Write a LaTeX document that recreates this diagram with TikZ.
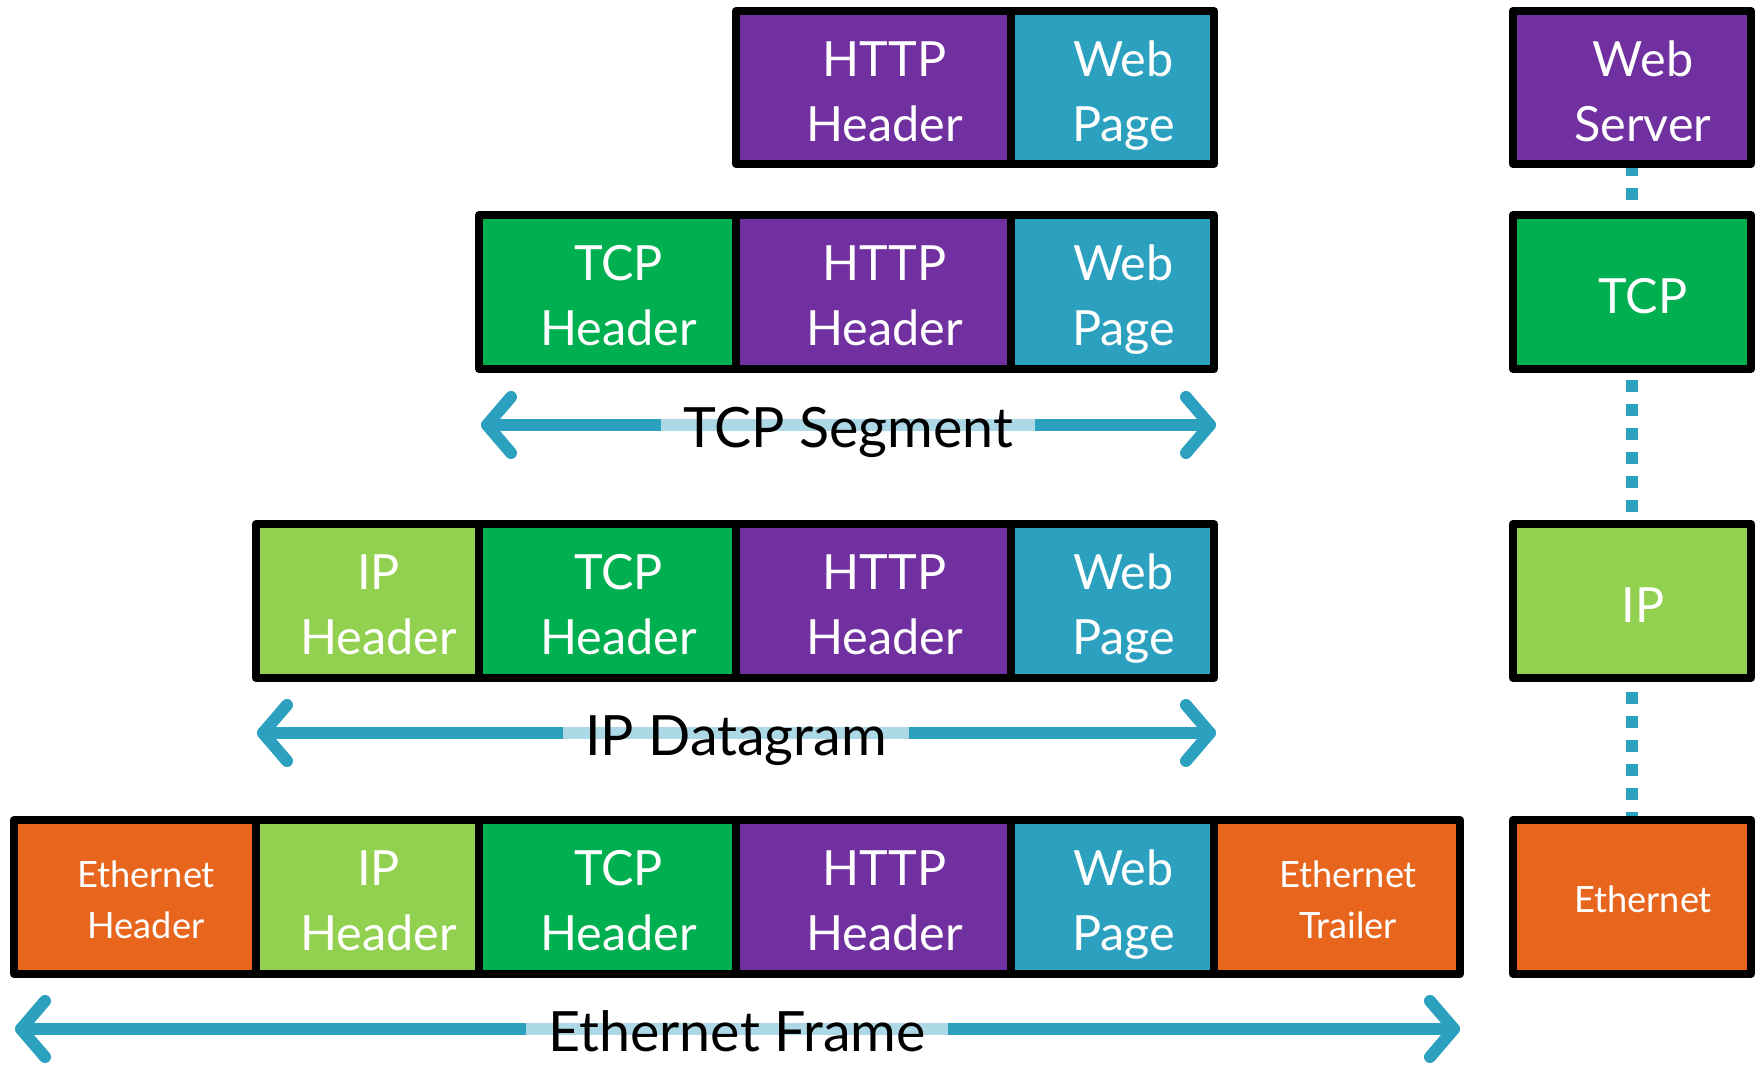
\documentclass[tikz,border=0pt]{standalone}
\usepackage{fontspec}
\setmainfont{Lato}
\usetikzlibrary{backgrounds}
\definecolor{cpurple}{HTML}{7030A0}
\definecolor{cweb}{HTML}{2CA1BF}
\definecolor{cgreen}{HTML}{00AF50}
\definecolor{clgreen}{HTML}{92D050}
\definecolor{corange}{HTML}{E8651E}
\definecolor{cband}{HTML}{ADD9E6}
\newcommand\cellfont{\fontsize{13.8pt}{18.4pt}\selectfont}
\newcommand\ethfont{\fontsize{10.3pt}{14.4pt}\selectfont}
\newcommand\lblfont{\fontsize{15.8pt}{18pt}\selectfont}
% first line: indent plus a strut that fixes the line height
\newcommand\fln{\hspace*{0.22cm}\rule{0pt}{0.88em}}
\newcommand\sft{\hspace*{0.22cm}}
\tikzset{
  cell/.style={draw=black, line width=0.08cm, line join=round, inner sep=0pt,
    text=white, font=\cellfont, align=center, text depth=0pt},
  ethcell/.style={cell, font=\ethfont},
  lbl/.style={anchor=base, font=\lblfont, text=black, inner xsep=0.22cm, inner ysep=0pt},
  dimline/.style={draw=cweb, line width=0.12cm, line cap=round, line join=round},
  band/.style={draw=cband, line width=0.12cm},
  dots/.style={draw=cweb, line width=0.12cm, dash pattern=on 0.12cm off 0.12cm}
}
\newcommand\pcell[8][cell]{%
  \node[#1, fill=#7, minimum width={(#4-#3)*0.01cm}, minimum height={(#6-#5)*0.01cm}]
    (#2) at ({(#3+#4)/2},{(#5+#6)/2}) {#8};}
\begin{document}
\begin{tikzpicture}[x=0.01cm, y=-0.01cm]
\useasboundingbox (0,0) rectangle (1756,1065);
% Row 1
\pcell{aHttp}{736}{1011}{11}{164}{cpurple}{\fln HTTP\\\sft Header}
\pcell{aWeb}{1011}{1214}{11}{164}{cweb}{\fln Web\\\sft Page}
% Row 2
\pcell{bTcp}{479}{736}{215}{369}{cgreen}{\fln TCP\\\sft Header}
\pcell{bHttp}{736}{1011}{215}{369}{cpurple}{\fln HTTP\\\sft Header}
\pcell{bWeb}{1011}{1214}{215}{369}{cweb}{\fln Web\\\sft Page}
% Row 3
\pcell{cIp}{256}{479}{524}{678}{clgreen}{\fln IP\\\sft Header}
\pcell{cTcp}{479}{736}{524}{678}{cgreen}{\fln TCP\\\sft Header}
\pcell{cHttp}{736}{1011}{524}{678}{cpurple}{\fln HTTP\\\sft Header}
\pcell{cWeb}{1011}{1214}{524}{678}{cweb}{\fln Web\\\sft Page}
% Row 4
\pcell[ethcell]{dEthH}{14}{256}{820}{974}{corange}{\fln Ethernet\\\sft Header}
\pcell{dIp}{256}{479}{820}{974}{clgreen}{\fln IP\\\sft Header}
\pcell{dTcp}{479}{736}{820}{974}{cgreen}{\fln TCP\\\sft Header}
\pcell{dHttp}{736}{1011}{820}{974}{cpurple}{\fln HTTP\\\sft Header}
\pcell{dWeb}{1011}{1214}{820}{974}{cweb}{\fln Web\\\sft Page}
\pcell[ethcell]{dEthT}{1214}{1460}{820}{974}{corange}{\fln Ethernet\\\sft Trailer}
% Right column
\pcell{rWeb}{1513}{1751}{11}{164}{cpurple}{\fln Web\\\sft Server}
\pcell{rTcp}{1513}{1751}{215}{369}{cgreen}{\fln TCP}
\pcell{rIp}{1513}{1751}{524}{678}{clgreen}{\fln IP}
\pcell[ethcell]{rEth}{1513}{1751}{820}{974}{corange}{\fln Ethernet}
% Dimension labels
\coordinate (segL) at (487,425); \coordinate (segR) at (1210,425);
\coordinate (dgL) at (263,733); \coordinate (dgR) at (1210,733);
\coordinate (frL) at (21,1029); \coordinate (frR) at (1454,1029);
\node[lbl] (seg) at (848,448) {TCP Segment};
\node[lbl] (dg) at (736,756) {IP Datagram};
\node[lbl] (fr) at (737,1052) {Ethernet Frame};
\begin{scope}[on background layer]
  \draw[dots, dash phase=0.04cm] (rWeb.south) -- (rTcp.north);
  \draw[dots, dash phase=0.17cm] (rTcp.south) -- (rIp.north);
  \draw[dots, dash phase=0.14cm] (rIp.south) -- (rEth.north);
  \foreach \l/\r/\n in {segL/segR/seg, dgL/dgR/dg, frL/frR/fr}{
    \draw[dimline] (\l) -- (\r);
    \draw[band] (\n.west |- \l) -- (\n.east |- \l);
    \draw[dimline] ([shift={(24,-28)}]\l) -- (\l) -- ([shift={(24,28)}]\l);
    \draw[dimline] ([shift={(-24,-28)}]\r) -- (\r) -- ([shift={(-24,28)}]\r);
  }
\end{scope}
\end{tikzpicture}
\end{document}
